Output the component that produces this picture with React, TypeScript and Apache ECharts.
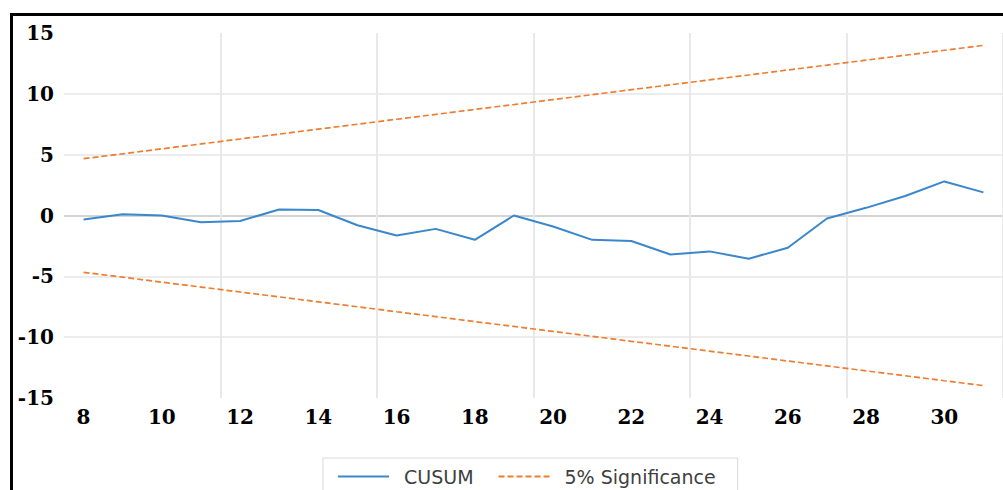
import React, { useEffect, useRef } from "react";
import * as echarts from "echarts";

const xCategories = ["8","9","10","11","12","13","14","15","16","17","18","19","20","21","22","23","24","25","26","27","28","29","30","31"];
const cusumValues = [-0.33, 0.1, 0.0, -0.55, -0.45, 0.5, 0.45, -0.8, -1.65, -1.1, -2.0, 0.0, -0.9, -2.0, -2.1, -3.2, -2.95, -3.55, -2.65, -0.25, 0.63, 1.6, 2.8, 1.9];
const upperBound = [4.67, 5.07, 5.48, 5.88, 6.29, 6.69, 7.1, 7.5, 7.91, 8.31, 8.72, 9.12, 9.53, 9.93, 10.34, 10.74, 11.15, 11.55, 11.96, 12.36, 12.77, 13.17, 13.58, 13.98];
const lowerBound = [-4.67, -5.07, -5.48, -5.88, -6.29, -6.69, -7.1, -7.5, -7.91, -8.31, -8.72, -9.12, -9.53, -9.93, -10.34, -10.74, -11.15, -11.55, -11.96, -12.36, -12.77, -13.17, -13.58, -13.98];
const seriesNames = ["CUSUM", "5% Significance"];

const axisFont = {
  fontFamily: "DejaVu Serif",
  fontWeight: "bold" as const,
  fontSize: 20,
  color: "#000000",
};

export default function App() {
  const ref = useRef<HTMLDivElement>(null);
  useEffect(() => {
    if (!ref.current) return;
    const chart = echarts.init(ref.current, null, { renderer: "svg" });
    chart.setOption({
      animation: false,
      backgroundColor: "#ffffff",
      grid: { left: 64, top: 33, right: -4, bottom: 92, containLabel: false },
      xAxis: {
        type: "category",
        data: xCategories,
        boundaryGap: true,
        axisLine: { show: false },
        axisTick: { show: false },
        axisLabel: { ...axisFont, interval: 1, margin: 9 },
        splitLine: {
          show: true,
          interval: (i: number) => i > 0 && i % 4 === 0,
          lineStyle: { color: "#e8e8e8", width: 2 },
        },
      },
      yAxis: {
        type: "value",
        min: -15,
        max: 15,
        interval: 5,
        axisLine: { show: false },
        axisTick: { show: false },
        axisLabel: { ...axisFont, margin: 10 },
        splitLine: {
          show: true,
          lineStyle: {
            color: ["rgba(0,0,0,0)", "#ececec", "#ececec", "#d4d4d4", "#ececec", "#ececec", "rgba(0,0,0,0)"],
            width: 2,
          },
        },
      },
      legend: {
        data: seriesNames,
        left: 323,
        top: 458,
        orient: "horizontal",
        itemWidth: 51,
        itemHeight: 14,
        itemGap: 24,
        padding: [9, 22, 12, 14],
        borderColor: "#d9d9d9",
        borderWidth: 1,
        itemStyle: { opacity: 0 },
        textStyle: {
          fontFamily: "DejaVu Sans",
          fontSize: 19,
          color: "#404040",
          padding: [0, 0, 0, 10],
        },
      },
      series: [
        {
          name: seriesNames[0],
          type: "line",
          data: cusumValues,
          symbol: "none",
          lineStyle: { color: "#3a87cc", width: 2 },
          itemStyle: { color: "#3a87cc" },
        },
        {
          name: seriesNames[1],
          type: "line",
          data: upperBound,
          symbol: "none",
          lineStyle: { color: "#ed7d31", width: 1.7, type: [6, 3] },
          itemStyle: { color: "#ed7d31" },
        },
        {
          name: seriesNames[1],
          type: "line",
          data: lowerBound,
          symbol: "none",
          lineStyle: { color: "#ed7d31", width: 1.7, type: [6, 3] },
          itemStyle: { color: "#ed7d31" },
        },
      ],
      graphic: [
        { type: "rect", left: 10, top: 13, shape: { width: 993, height: 3 }, style: { fill: "#000000" }, z: 100 },
        { type: "rect", left: 10, top: 13, shape: { width: 3, height: 477 }, style: { fill: "#000000" }, z: 100 },
      ],
    });
    return () => chart.dispose();
  }, []);
  return (
    <div
      ref={ref}
      style={{ position: "absolute", left: 0, top: 0, width: 1003, height: 490 }}
    />
  );
}
